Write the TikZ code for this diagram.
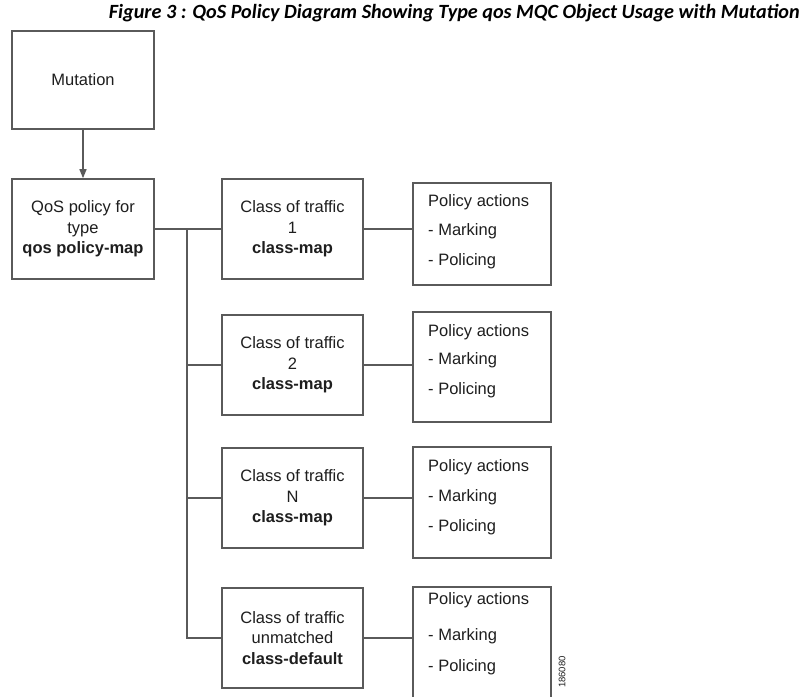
\documentclass[tikz,border=0pt]{standalone}
\usepackage{fontspec}
\setmainfont{Liberation Sans}
\newfontfamily\titlefont{Carlito}
\usetikzlibrary{arrows.meta}
\definecolor{linec}{HTML}{5A5A5A}
\definecolor{txtc}{HTML}{1E1E1E}
\tikzset{
  box/.style={draw=linec, line width=1.6pt, fill=white, minimum width=141pt, inner sep=0pt,
     text=txtc, font=\fontsize{16.5}{20.5}\selectfont, align=center},
  pbox/.style={draw=linec, line width=1.6pt, minimum width=138pt, inner sep=0pt},
  ptext/.style={anchor=west, inner sep=0pt, text=txtc, font=\fontsize{16.5}{17}\selectfont},
  conn/.style={draw=linec, line width=1.4pt},
}
\begin{document}
\begin{tikzpicture}[x=1pt,y=-1pt]
\useasboundingbox (0,0) rectangle (803,696);
\fill[white] (0,0) rectangle (803,696);
% title
\node[anchor=east, inner sep=0pt, font=\titlefont\bfseries\itshape\fontsize{20.2}{21}\selectfont] (title) at (800,13)
  {Figure 3 : QoS Policy Diagram Showing Type qos MQC Object Usage with Mutation};
% left column
\node[box, minimum width=142pt, minimum height=98pt] (mut) at (83,80) {Mutation};
\node[box, minimum width=142pt, minimum height=100pt] (qos) at (83,229)
  {QoS policy for\\ type\\ \textbf{qos policy-map}};
% class boxes
\node[box, minimum height=100pt] (c1) at (292.5,229) {Class of traffic\\ 1\\ \textbf{class-map}};
\node[box, minimum height=100pt] (c2) at (292.5,365) {Class of traffic\\ 2\\ \textbf{class-map}};
\node[box, minimum height=100pt] (cn) at (292.5,498) {Class of traffic\\ N\\ \textbf{class-map}};
\node[box, minimum height=100pt] (cd) at (292.5,638) {Class of traffic\\ unmatched\\ \textbf{class-default}};
% policy boxes
\node[pbox, minimum height=102pt] (p1) at (482,234) {};
\node[pbox, minimum height=110pt] (p2) at (482,367) {};
\node[pbox, minimum height=111pt] (pn) at (482,502.5) {};
\node[pbox, minimum height=113pt] (pd) at (482,643.5) {};
\node[ptext] (p1a) at (428,202) {Policy actions};
\node[ptext] (p1b) at (428,231) {- Marking};
\node[ptext] (p1c) at (428,261) {- Policing};
\node[ptext] (p2a) at (428,332) {Policy actions};
\node[ptext] (p2b) at (428,360) {- Marking};
\node[ptext] (p2c) at (428,390) {- Policing};
\node[ptext] (pna) at (428,467) {Policy actions};
\node[ptext] (pnb) at (428,497) {- Marking};
\node[ptext] (pnc) at (428,527) {- Policing};
\node[ptext] (pda) at (428,600) {Policy actions};
\node[ptext] (pdb) at (428,636) {- Marking};
\node[ptext] (pdc) at (428,667) {- Policing};
% figure id
\node[anchor=east, rotate=90, inner sep=0pt, text=txtc, font=\fontsize{9.5}{10}\selectfont] (fid) at (562,656) {186080};
% connectors
\draw[conn, -{Triangle[length=9pt,width=7pt]}] (mut.south) -- (qos.north);
\coordinate (trunk) at (187,229);
\coordinate (trunkend) at (187,638);
\draw[conn] (qos.east) -- (c1.west);
\draw[conn] (trunk) -- (trunkend) -- (cd.west);
\draw[conn] (trunk |- c2.west) -- (c2.west);
\draw[conn] (trunk |- cn.west) -- (cn.west);
\draw[conn] (c1.east) -- (c1.east -| p1.west);
\draw[conn] (c2.east) -- (c2.east -| p2.west);
\draw[conn] (cn.east) -- (cn.east -| pn.west);
\draw[conn] (cd.east) -- (cd.east -| pd.west);
\end{tikzpicture}
\end{document}
